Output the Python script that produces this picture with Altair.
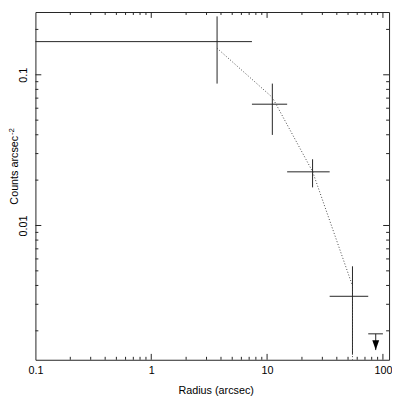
import altair as alt
import pandas as pd

# ---- data ----
radius = [3.7, 11.1, 24.7, 54.6]
radius_lo = [0.1, 7.4, 14.9, 34.7]
radius_hi = [7.4, 14.9, 34.7, 74.7]
counts = [0.166, 0.0638, 0.0227, 0.00339]
counts_lo = [0.0874, 0.0399, 0.0179, 0.00139]
counts_hi = [0.244, 0.0874, 0.0275, 0.00536]

model_radius = [3.7, 11.1, 24.7, 54.6, 54.6]
model_counts = [0.150, 0.0708, 0.0228, 0.00398, 0.0008]

ul_radius = [86.7]
ul_lo = [74.7]
ul_hi = [100.0]
ul_value = [0.00191]
ul_tip = [0.00149]

x_label_values = [0.1, 1, 10, 100]
y_label_values = [0.01, 0.1]
x_major = [1, 10, 100]
x_minor = [0.2, 0.3, 0.4, 0.5, 0.6, 0.7, 0.8, 0.9,
           2, 3, 4, 5, 6, 7, 8, 9,
           20, 30, 40, 50, 60, 70, 80, 90]
y_major = [0.01, 0.1]
y_minor = [0.002, 0.003, 0.004, 0.005, 0.006, 0.007, 0.008, 0.009,
           0.02, 0.03, 0.04, 0.05, 0.06, 0.07, 0.08, 0.09, 0.2]

y_title = "Counts arcsec"
y_title_sup = ["-2"]

# ---- layout ----
W, H = 361, 355
FONT = "Liberation Sans"
FS = 11
LC = "#222"

xs = alt.Scale(type="log", domain=[0.1, 113], nice=False)
ys = alt.Scale(type="log", domain=[0.001285, 0.2609], nice=False)

xaxis = alt.Axis(values=x_label_values, format="~g", title="Radius (arcsec)",
                 domain=False, ticks=False, tickSize=0, grid=False,
                 labelFlush=False, labelOverlap=False, labelPadding=14,
                 labelBaseline="alphabetic", labelFont=FONT, labelFontSize=FS,
                 labelColor="black", titleFont=FONT, titleFontSize=FS,
                 titleFontWeight="normal", titleColor="black",
                 titleBaseline="alphabetic", titleY=34, titleX=184,
                 titleAlign="center")
yaxis = alt.Axis(values=y_label_values, format="~g", title=y_title,
                 domain=False, ticks=False, tickSize=0, grid=False,
                 labelFlush=False, labelOverlap=False, labelPadding=9,
                 labelAngle=270, labelAlign="center", labelBaseline="alphabetic",
                 labelFont=FONT, labelFontSize=FS, labelColor="black",
                 titleFont=FONT, titleFontSize=FS, titleFontWeight="normal",
                 titleColor="black", titleAngle=270, titleAlign="center",
                 titleBaseline="alphabetic", titleX=-18, titleY=161)


def X(f):
    return alt.X(f, type="quantitative", scale=xs, axis=xaxis)


def Y(f):
    return alt.Y(f, type="quantitative", scale=ys, axis=yaxis)


pts = pd.DataFrame({"r": radius, "rlo": radius_lo, "rhi": radius_hi,
                    "c": counts, "clo": counts_lo, "chi": counts_hi})
model = pd.DataFrame({"r": model_radius, "c": model_counts,
                      "i": list(range(len(model_radius)))})
ul = pd.DataFrame({"r": ul_radius, "rlo": ul_lo, "rhi": ul_hi,
                   "c": ul_value, "tip": ul_tip})

hbars = alt.Chart(pts).mark_rule(color=LC, strokeWidth=1).encode(
    x=X("rlo"), x2="rhi", y=Y("c"))
vbars = alt.Chart(pts).mark_rule(color=LC, strokeWidth=1, clip=True).encode(
    x=X("r"), y=Y("clo"), y2="chi")
mline = alt.Chart(model).mark_line(color="#444", strokeWidth=1,
                                   strokeDash=[1, 2], clip=True).encode(
    x=X("r"), y=Y("c"), order="i:Q")
ulbar = alt.Chart(ul).mark_rule(color=LC, strokeWidth=1).encode(
    x=X("rlo"), x2="rhi", y=Y("c"))
ulshaft = alt.Chart(ul).mark_rule(color=LC, strokeWidth=1).encode(
    x=X("r"), y=Y("c"), y2="tip")
ulhead = alt.Chart(ul).mark_point(shape="M -0.7 -2 L 0.7 -2 L 0 0 Z", filled=True,
                                  size=100, color="black", opacity=1).encode(
    x=X("r"), y=Y("tip"))

sup = alt.Chart(pd.DataFrame({"t": y_title_sup})).mark_text(
    font=FONT, fontSize=8, angle=270, align="center", baseline="alphabetic",
    color="black").encode(text="t:N", x=alt.value(-22), y=alt.value(122))


def xticks(vals, L):
    df = pd.DataFrame({"v": vals})
    base = alt.Chart(df).mark_rule(color=LC, strokeWidth=1)
    return [base.encode(x=X("v"), y=alt.value(H), y2=alt.value(H - L)),
            base.encode(x=X("v"), y=alt.value(0), y2=alt.value(L))]


def yticks(vals, L):
    df = pd.DataFrame({"v": vals})
    base = alt.Chart(df).mark_rule(color=LC, strokeWidth=1)
    return [base.encode(y=Y("v"), x=alt.value(0), x2=alt.value(L)),
            base.encode(y=Y("v"), x=alt.value(W), x2=alt.value(W - L))]


layers = [hbars, vbars, mline, ulbar, ulshaft, ulhead, sup]
layers += xticks(x_major, 6) + xticks(x_minor, 3)
layers += yticks(y_major, 6) + yticks(y_minor, 3)

chart = alt.layer(*layers).properties(
    width=W, height=H,
    padding={"left": 28, "top": 0, "right": 3, "bottom": 39},
    autosize=alt.AutoSizeParams(type="none"),
    background="white",
).configure_view(stroke="#222", strokeWidth=1)

chart.save("out.html", embed_options={"renderer": "svg", "actions": False})
